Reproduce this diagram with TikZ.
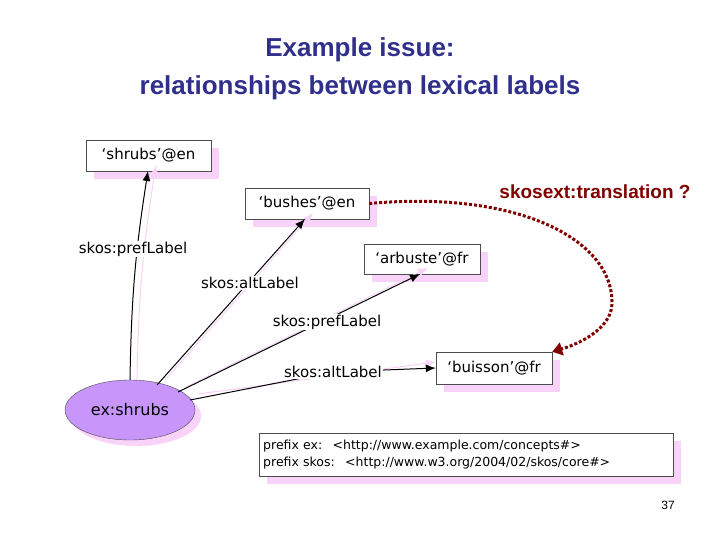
\documentclass[tikz,border=0pt]{standalone}
\usepackage{fontspec}
\setmainfont{DejaVu Sans}
\newfontfamily\arialf{Liberation Sans}
\usetikzlibrary{arrows.meta,shapes.geometric}
\definecolor{titleblue}{RGB}{48,48,140}
\definecolor{dred}{RGB}{128,0,0}
\definecolor{shpink}{RGB}{248,210,248}
\definecolor{lilac}{RGB}{200,150,250}
\begin{document}
\begin{tikzpicture}[x=1pt,y=-1pt,
  lit/.style={draw=black!70,fill=white,inner sep=0pt,font=\fontsize{15}{18}\selectfont},
  shadow/.style={fill=shpink},
  rel/.style={-{Latex[length=10pt,width=8pt]},line width=1pt},
  relsh/.style={-{Latex[length=10pt,width=8pt]},line width=1pt,draw=shpink},
  lab/.style={fill=white,inner sep=1pt,font=\fontsize{15}{18}\selectfont}]
\useasboundingbox (0,0) rectangle (720,540);
\node[font=\arialf\bfseries\fontsize{26}{38}\selectfont,text=titleblue,align=center] (title) at (360,69) {Example issue:\\relationships between lexical labels};
% shadows
\fill[shadow] (94,148) rectangle (219,179);
\fill[shadow] (253,196) rectangle (377,227);
\fill[shadow] (372,252) rectangle (488,282);
\fill[shadow] (444,360) rectangle (560,392);
\fill[shadow] (267,441) rectangle (681,484);
\fill[shadow] (136,416) ellipse [x radius=65, y radius=30];
% literal boxes
\node[lit,minimum width=125pt,minimum height=31pt] (shrubs) at (148.5,155.5) {`shrubs'@en};
\node[lit,minimum width=124pt,minimum height=31pt] (bushes) at (307,203.5) {`bushes'@en};
\node[lit,minimum width=116pt,minimum height=30pt] (arbuste) at (422,259) {`arbuste'@fr};
\node[lit,minimum width=116pt,minimum height=32pt] (buisson) at (494,368) {`buisson'@fr};
\node[draw=black!70,fill=lilac,ellipse,minimum width=130pt,minimum height=60pt,inner sep=0pt,font=\fontsize{16}{18}\selectfont] (ex) at (130,410) {ex:shrubs};
\node[draw=black!70,fill=white,minimum width=414pt,minimum height=43pt,inner sep=4pt,align=left,anchor=north west,font=\fontsize{12.5}{17}\selectfont,text width=406pt] (prefix) at (259,433) {prefix ex: \ <http://www.example.com/concepts\#>\\prefix skos: \ <http://www.w3.org/2004/02/skos/core\#>};
% coordinates
\coordinate (s1) at (130,380);
\coordinate (s2) at (157,385);
\coordinate (s3) at (178,392);
\coordinate (s4) at (190,400);
\coordinate (e1) at (148,171);
\coordinate (e2) at (305,219);
\coordinate (e3) at (420,274);
% pink shadow arrows
\draw[relsh] ([xshift=7pt]s1) to[bend left=4] ([xshift=8pt,yshift=6pt]e1);
\draw[relsh] ([xshift=8pt,yshift=5pt]s2) -- ([xshift=8pt,yshift=6pt]e2);
\draw[relsh] ([xshift=8pt,yshift=5pt]s3) -- ([xshift=8pt,yshift=6pt]e3);
\draw[relsh] ([xshift=8pt,yshift=6pt]s4) -- ([yshift=6pt]buisson.west);
% arrows
\draw[rel] (s1) to[bend left=4] (e1);
\draw[rel] (s2) -- (e2);
\draw[rel] (s3) -- (e3);
\draw[rel] (s4) -- (333,372) -- (buisson.west);
\node[lab] (l1) at (133,249) {skos:prefLabel};
\node[lab] (l2) at (250,283) {skos:altLabel};
\node[lab] (l3) at (327,322) {skos:prefLabel};
\node[lab] (l4) at (333,372) {skos:altLabel};
% translation
\draw[dred,line width=3pt,dash pattern=on 3pt off 2pt,-{Triangle[length=10pt,width=13pt]}] (bushes.east) .. controls (520,190) and (610,240) .. (612,300) .. controls (614,330) and (575,345) .. (buisson.north east);
\node[font=\arialf\bfseries\fontsize{19}{22}\selectfont,text=dred] (tr) at (595,192) {skosext:translation ?};
\node[font=\arialf\fontsize{12}{14}\selectfont] (pg) at (668,505) {37};
\end{tikzpicture}
\end{document}
